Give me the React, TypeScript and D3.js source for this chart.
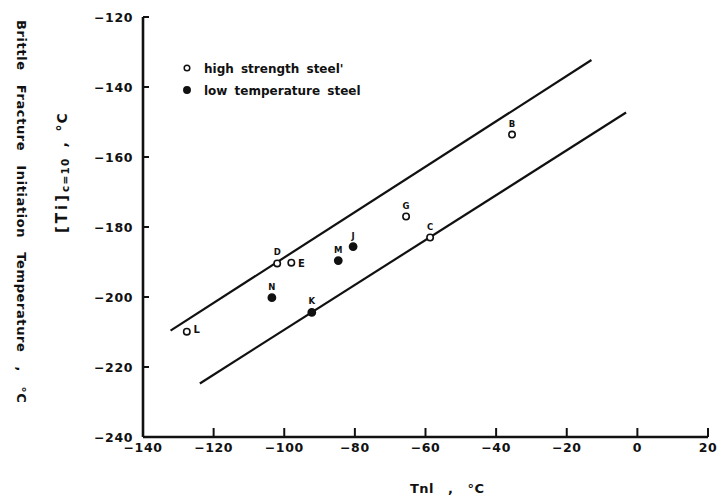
import React from "react";
import * as d3 from "d3";

// ---- data ----
const xTicks = [-140, -120, -100, -80, -60, -40, -20, 0, 20];
const yTicks = [-120, -140, -160, -180, -200, -220, -240];

const pointLabels = ["B", "G", "C", "D", "E", "L", "M", "J", "N", "K"];
const pointTnl = [-35.5, -65.5, -58.7, -102, -98, -127.6, -84.7, -80.5, -103.5, -92.2];
const pointTi = [-153.6, -177, -183, -190.4, -190.2, -209.9, -189.6, -185.6, -200.2, -204.4];
const pointSteel = ["high", "high", "high", "high", "high", "high", "low", "low", "low", "low"];

const upperLineX = [-132.2, -13];
const upperLineY = [-209.6, -132.3];
const lowerLineX = [-123.9, -3.2];
const lowerLineY = [-224.7, -147.3];

const legendLabels = ["high strength steel'", "low temperature steel"];
const legendSteel = ["high", "low"];

const rightLabels = new Set(["E", "L"]);

export default function App() {
  const W = 718;
  const H = 497;
  const x = d3.scaleLinear().domain([-140, 20]).range([143, 708]);
  const y = d3.scaleLinear().domain([-240, -120]).range([437, 17]);
  const line = d3
    .line<[number, number]>()
    .x((d) => x(d[0]))
    .y((d) => y(d[1]));
  const upper = upperLineX.map((v, i) => [v, upperLineY[i]] as [number, number]);
  const lower = lowerLineX.map((v, i) => [v, lowerLineY[i]] as [number, number]);
  const font = "'DejaVu Sans', sans-serif";
  const ink = "#111";

  return (
    <svg
      width={W}
      height={H}
      style={{ position: "absolute", left: 0, top: 0, background: "#fff" }}
      fontFamily={font}
    >
      <rect x={0} y={0} width={W} height={H} fill="#fff" />
      {/* axes */}
      <line x1={x(-140)} x2={x(-140)} y1={y(-120)} y2={y(-240)} stroke={ink} strokeWidth={2.6} />
      <line x1={x(-140)} x2={x(20)} y1={y(-240)} y2={y(-240)} stroke={ink} strokeWidth={2.4} />
      {yTicks.map((t) => (
        <g key={"y" + t}>
          <line x1={x(-140)} x2={x(-140) + 6} y1={y(t)} y2={y(t)} stroke={ink} strokeWidth={2} />
          <text
            x={133}
            y={y(t) + 4.5}
            textAnchor="end"
            fontSize={12.5}
            fontWeight="bold"
            fill={ink}
            letterSpacing={0.6}
          >
            {"\u2212" + Math.abs(t)}
          </text>
        </g>
      ))}
      {xTicks.map((t) => (
        <g key={"x" + t}>
          <line x1={x(t)} x2={x(t)} y1={y(-240)} y2={y(-240) - 9} stroke={ink} strokeWidth={2} />
          <text
            x={x(t)}
            y={y(-240) + 15}
            textAnchor="middle"
            fontSize={12.5}
            fontWeight="bold"
            fill={ink}
            letterSpacing={0.6}
          >
            {t < 0 ? "\u2212" + Math.abs(t) : String(t)}
          </text>
        </g>
      ))}
      {/* fitted lines */}
      <path d={line(upper) || ""} fill="none" stroke={ink} strokeWidth={2.2} />
      <path d={line(lower) || ""} fill="none" stroke={ink} strokeWidth={2.2} />
      {/* points */}
      {pointLabels.map((lab, i) => {
        const px = x(pointTnl[i]);
        const py = y(pointTi[i]);
        const high = pointSteel[i] === "high";
        const right = rightLabels.has(lab);
        return (
          <g key={lab}>
            <circle
              cx={px}
              cy={py}
              r={high ? 3.2 : 3.6}
              fill={high ? "#fff" : ink}
              stroke={ink}
              strokeWidth={1.6}
            />
            <text
              x={right ? px + 10 : px}
              y={right ? (lab === "L" ? py + 1.5 : py + 4) : py - 8}
              textAnchor="middle"
              fontSize={right ? 10 : 8.5}
              fontWeight="bold"
              fill={ink}
            >
              {lab}
            </text>
          </g>
        );
      })}
      {/* legend */}
      {legendLabels.map((lab, i) => {
        const ly = 68 + i * 22;
        const high = legendSteel[i] === "high";
        return (
          <g key={lab}>
            <circle
              cx={187}
              cy={ly}
              r={high ? 2.8 : 3.2}
              fill={high ? "#fff" : ink}
              stroke={ink}
              strokeWidth={1.5}
            />
            <text
              x={204}
              y={ly + 4.5}
              fontSize={12}
              fontWeight="bold"
              fill={ink}
              wordSpacing={3}
            >
              {lab}
            </text>
          </g>
        );
      })}
      {/* x axis title */}
      <text x={410} y={493} fontSize={13} fontWeight="bold" fill={ink} letterSpacing={0.5} wordSpacing={9}>
        {"Tnl , \u00B0C"}
      </text>
      {/* outer y title */}
      <text
        transform="translate(17,20) rotate(90)"
        x={0}
        y={0}
        fontSize={13}
        fontWeight="bold"
        fill={ink}
        letterSpacing={0.6}
        wordSpacing={9}
      >
        {"Brittle Fracture Initiation Temperature , \u00B0C"}
      </text>
      {/* inner y title */}
      <text
        transform="translate(67,233) rotate(-90)"
        x={0}
        y={0}
        fontSize={15}
        fontWeight="bold"
        fill={ink}
        wordSpacing={4}
      >
        <tspan letterSpacing={3}>{"[Ti]"}</tspan>
        <tspan fontSize={10.5} dy={2} letterSpacing={1.2}>{"c=10"}</tspan>
        <tspan dy={-2} fontSize={14} letterSpacing={1}>{" , \u00B0C"}</tspan>
      </text>
    </svg>
  );
}
